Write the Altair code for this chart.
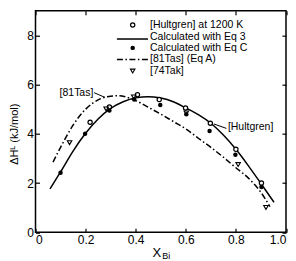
import altair as alt
import pandas as pd

# Calculated with Eq 3 (solid curve)
eq3_x = [0.058, 0.10, 0.15, 0.20, 0.25, 0.30, 0.35, 0.40, 0.45, 0.50, 0.55, 0.60, 0.65, 0.70, 0.75, 0.80, 0.85, 0.90, 0.952]
eq3_y = [1.76, 2.45, 3.30, 4.02, 4.60, 5.03, 5.30, 5.46, 5.51, 5.45, 5.30, 5.05, 4.78, 4.43, 3.95, 3.37, 2.70, 1.98, 1.22]

# [81Tas] (Eq A) (dash-dot curve)
tas_x = [0.07, 0.10, 0.15, 0.20, 0.25, 0.30, 0.33, 0.36, 0.40, 0.45, 0.50, 0.55, 0.60, 0.65, 0.70, 0.75, 0.80, 0.85, 0.90, 0.936]
tas_y = [2.85, 3.45, 4.35, 5.00, 5.38, 5.53, 5.55, 5.50, 5.35, 5.08, 4.80, 4.50, 4.20, 3.82, 3.45, 3.05, 2.62, 2.20, 1.62, 1.04]

# [Hultgren] at 1200 K (open circles)
hult_x = [0.218, 0.295, 0.407, 0.494, 0.599, 0.698, 0.800, 0.902]
hult_y = [4.47, 5.09, 5.59, 5.39, 5.05, 4.43, 3.37, 2.00]

# Calculated with Eq C (filled dots)
eqc_x = [0.100, 0.198, 0.295, 0.394, 0.498, 0.602, 0.695, 0.798, 0.902]
eqc_y = [2.42, 4.00, 4.95, 5.39, 5.17, 4.79, 4.11, 3.15, 1.84]

# [74Tak] (open down triangles)
tak_x = [0.136, 0.282, 0.392, 0.602, 0.809, 0.920]
tak_y = [3.64, 5.01, 5.50, 4.85, 2.75, 1.01]

# legend
legend_labels = ["[Hultgren] at 1200 K", "Calculated with Eq 3", "Calculated with Eq C", "[81Tas] (Eq A)", "[74Tak]"]
legend_y = [8.42, 7.95, 7.49, 7.02, 6.55]
legend_sym_x = 0.388
legend_line_x = [0.325, 0.449]
legend_text_x = 0.457

# annotations
ann_text = ["[81Tas]", "[Hultgren]"]
ann_x = [0.231, 0.768]
ann_y = [5.67, 4.26]
lead_x = [0.234, 0.712]
lead_y = [5.67, 4.40]
lead_x2 = [0.277, 0.762]
lead_y2 = [5.48, 4.22]

x_ticks = [0, 0.2, 0.4, 0.6, 0.8, 1.0]
y_ticks = [0, 2, 4, 6, 8]

FONT = "Liberation Sans"
W, H = 250.5, 221.6

xs = alt.Scale(domain=[0, 1], nice=False, zero=False)
ys = alt.Scale(domain=[0, 9], nice=False, zero=False)

x_main = alt.Axis(values=x_ticks, labelExpr="datum.value == 0 ? '0' : format(datum.value, '.1f')",
                  domain=False, tickSize=4, offset=-4, tickColor="black", tickWidth=1.2,
                  labelFont=FONT, labelFontSize=12, labelColor="black", labelPadding=2,
                  title=None, grid=False)
y_main = alt.Axis(values=y_ticks, format="d", domain=False, tickSize=4, offset=-4, tickColor="black",
                  tickWidth=1.2, labelFont=FONT, labelFontSize=12, labelColor="black", labelPadding=2,
                  title="ΔHᴸ (kJ/mol)", titleFont=FONT, titleFontSize=11, titleFontWeight="normal",
                  titleColor="black", titlePadding=7, titleY=123, grid=False)
x_top = alt.Axis(orient="top", values=x_ticks, labels=False, domain=False, tickSize=4, offset=-4,
                 tickColor="black", tickWidth=1.2, title=None, grid=False)
y_right = alt.Axis(orient="right", values=y_ticks, labels=False, domain=False, tickSize=4, offset=-4,
                   tickColor="black", tickWidth=1.2, title=None, grid=False)

eq3_df = pd.DataFrame({"x": eq3_x, "y": eq3_y})
tas_df = pd.DataFrame({"x": tas_x, "y": tas_y})
hult_df = pd.DataFrame({"x": hult_x, "y": hult_y})
eqc_df = pd.DataFrame({"x": eqc_x, "y": eqc_y})
tak_df = pd.DataFrame({"x": tak_x, "y": tak_y})

X = lambda: alt.X("x:Q", scale=xs, axis=None)
Y = lambda: alt.Y("y:Q", scale=ys, axis=None)

eq3_line = alt.Chart(eq3_df).mark_line(color="black", strokeWidth=1.5, interpolate="monotone").encode(
    x=alt.X("x:Q", scale=xs, axis=x_main), y=alt.Y("y:Q", scale=ys, axis=y_main))

tick_layer = alt.Chart(hult_df).mark_point(opacity=0).encode(
    x=alt.X("x:Q", scale=xs, axis=x_top), y=alt.Y("y:Q", scale=ys, axis=y_right))

tas_line = alt.Chart(tas_df).mark_line(color="black", strokeWidth=1.5, strokeDash=[6, 2.5, 1.5, 2.5],
                                       interpolate="monotone").encode(x=X(), y=Y())

hult_pts = alt.Chart(hult_df).mark_point(shape="circle", filled=True, fill="white", stroke="black",
                                         strokeWidth=1.2, size=18, opacity=1).encode(x=X(), y=Y())

eqc_pts = alt.Chart(eqc_df).mark_point(shape="circle", filled=True, color="black", size=20,
                                       opacity=1).encode(x=X(), y=Y())

tak_pts = alt.Chart(tak_df).mark_point(shape="triangle-down", filled=False, color="black",
                                       strokeWidth=1.1, size=20, opacity=1).encode(x=X(), y=Y())

# legend
leg_text_df = pd.DataFrame({"x": [legend_text_x] * 5, "y": legend_y, "t": legend_labels})
leg_text = alt.Chart(leg_text_df).mark_text(align="left", baseline="middle", font=FONT, fontSize=10.5,
                                            color="black").encode(x=X(), y=Y(), text="t:N")

leg_open = alt.Chart(pd.DataFrame({"x": [legend_sym_x], "y": [legend_y[0]]})).mark_point(
    shape="circle", filled=True, fill="white", stroke="black", strokeWidth=1.2, size=18, opacity=1).encode(
    x=X(), y=Y())
leg_fill = alt.Chart(pd.DataFrame({"x": [legend_sym_x], "y": [legend_y[2]]})).mark_point(
    shape="circle", filled=True, color="black", size=20, opacity=1).encode(x=X(), y=Y())
leg_tri = alt.Chart(pd.DataFrame({"x": [legend_sym_x], "y": [legend_y[4]]})).mark_point(
    shape="triangle-down", filled=False, color="black", strokeWidth=1.1, size=20, opacity=1).encode(
    x=X(), y=Y())
leg_solid = alt.Chart(pd.DataFrame({"x": [legend_line_x[0]], "x2": [legend_line_x[1]],
                                    "y": [legend_y[1] - 0.1]})).mark_rule(color="black", strokeWidth=1.5).encode(
    x=X(), x2="x2:Q", y=Y())
leg_dash = alt.Chart(pd.DataFrame({"x": [legend_line_x[0]], "x2": [legend_line_x[1]],
                                   "y": [legend_y[3]]})).mark_rule(color="black", strokeWidth=1.5,
                                                                   strokeDash=[6, 2.5, 1.5, 2.5]).encode(
    x=X(), x2="x2:Q", y=Y())

# annotations
ann_df = pd.DataFrame({"x": ann_x, "y": ann_y, "t": ann_text})
ann_left = alt.Chart(ann_df.iloc[[0]]).mark_text(align="right", baseline="middle", font=FONT, fontSize=10.5,
                                                 color="black").encode(x=X(), y=Y(), text="t:N")
ann_right = alt.Chart(ann_df.iloc[[1]]).mark_text(align="left", baseline="middle", font=FONT, fontSize=10.5,
                                                  color="black").encode(x=X(), y=Y(), text="t:N")
lead_df = pd.DataFrame({"x": lead_x, "y": lead_y, "x2": lead_x2, "y2": lead_y2})
leaders = alt.Chart(lead_df).mark_rule(color="black", strokeWidth=1).encode(
    x=X(), y=Y(), x2="x2:Q", y2="y2:Q")

# x title X with subscript Bi
xt_df = pd.DataFrame({"x": [0.484], "y": [-0.86], "t": ["X"]})
xs_df = pd.DataFrame({"x": [0.506], "y": [-0.96], "t": ["Bi"]})
x_title = alt.Chart(xt_df).mark_text(align="center", baseline="middle", font=FONT, fontSize=13,
                                     color="black").encode(x=X(), y=Y(), text="t:N")
x_sub = alt.Chart(xs_df).mark_text(align="left", baseline="middle", font=FONT, fontSize=9,
                                   color="black").encode(x=X(), y=Y(), text="t:N")

chart = alt.layer(
    eq3_line, tick_layer, tas_line, hult_pts, eqc_pts, tak_pts,
    leg_text, leg_open, leg_fill, leg_tri, leg_solid, leg_dash,
    ann_left, ann_right, leaders, x_title, x_sub
).resolve_axis(x="independent", y="independent").properties(
    width=W, height=H,
    autosize=alt.AutoSizeParams(type="none"),
    padding={"left": 27.5, "top": 2.7, "right": 2, "bottom": 28},
    background="white"
).configure_view(stroke="black", strokeWidth=1.5)

chart.save("out.html", embed_options={"renderer": "svg", "actions": False})
